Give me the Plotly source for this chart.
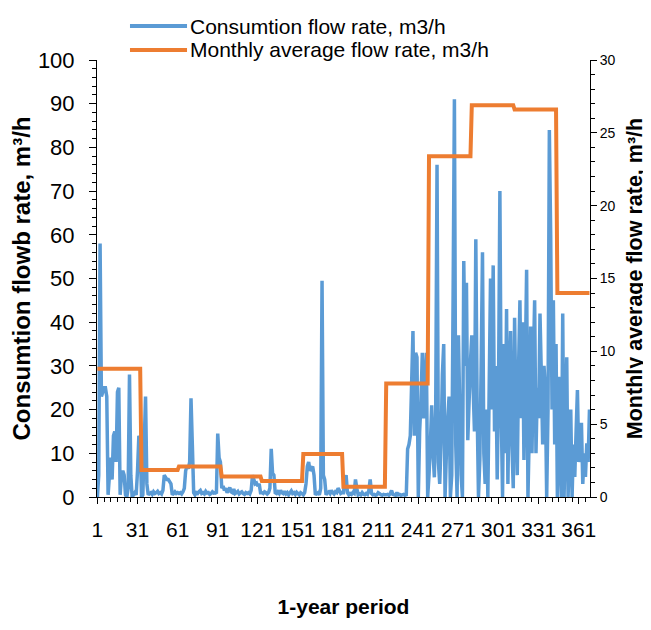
import plotly.graph_objects as go

# Daily consumption flow rate (m3/h), grouped by month
jan = [0, 5, 58, 23, 24, 25, 25, 23, 0.5, 5, 9, 4, 14, 15, 8, 24, 25, 0.5, 5, 6,
       5, 0.5, 0, 2, 28, 5, 0, 0.5, 1, 0.5, 6, 14, 13]
feb = [0, 0.5, 12, 23, 3, 0.5, 0.8, 1, 0.6, 1.2, 0.8, 1, 1.3, 0.8, 1, 0.7, 1.5, 5, 4.5, 4,
       4, 3.5, 3, 0.5, 0.8, 1.2, 0.8, 1]
mar = [0.8, 1, 0.7, 1.2, 2, 6, 7, 6.5, 8, 22.6, 12, 1, 0.5, 1, 0.8, 1.2, 1.5, 0.8, 1, 0.7,
       1.3, 0.9, 1, 0.6, 0.8, 1.2, 0.9, 1, 0.8, 14.5, 9, 8]
apr = [2, 2.5, 1.5, 2, 1, 1.5, 2.2, 1.2, 1, 1.8, 0.8, 1, 1.3, 0.7, 1, 1.2, 0.8, 0.6, 1, 0.8,
       1, 0.7, 1.5, 5, 4, 3, 3.2, 2.5, 3, 1]
may = [1, 0.8, 1.2, 1, 0.7, 1, 2, 11, 5.4, 5, 1, 0.8, 1.2, 0.8, 1.5, 1, 0.8, 1.3, 0.7, 1,
       0.5, 1, 1.4, 0.8, 1, 0.6, 1.1, 0.8, 0.5, 1, 0.8]
jun = [0.5, 1, 3, 7, 8, 6, 6.5, 7, 5, 0.5, 0.8, 1, 0.5, 2, 49.5, 5, 4, 0.5, 1, 1.2,
       0.8, 1.5, 1, 0.7, 1.2, 1, 2, 1.5, 0.8, 1]
jul = [1, 4, 5, 1, 0.5, 0.8, 0.6, 1, 0.8, 4, 2, 0.5, 0.7, 0.5, 1, 0.6, 0.5, 0.8, 0.6, 1.5,
       4, 0.8, 0.5, 0.6, 0.4, 0.5, 1, 0.8, 0.5, 0.4, 0.6, 0.5]
aug = [0.5, 0.6, 0.4, 0.8, 1.5, 0.6, 0.5, 0.4, 1, 0.5, 0.6, 0.4, 0.5, 0.6, 0.4, 0.5, 11, 12, 14, 26,
       38, 14, 33, 32, 0, 15, 22, 33, 18, 26, 33, 0]
sep = [5, 12, 21, 10, 4.5, 20, 76, 8, 3, 12, 28, 35, 0, 10, 18, 23, 0, 5, 45, 91,
       12, 0, 37, 20, 5, 0, 54, 30, 49, 13, 22, 31]
oct_ = [37, 25, 15, 59, 20, 0, 8.5, 30, 56, 10, 3, 20, 0, 25, 50, 20, 53, 15, 30, 4,
        25, 70, 20, 0, 35, 10, 43, 3, 25, 38, 12, 2]
nov = [41, 20, 5, 30, 45, 18, 40, 8.5, 30, 52, 0, 15, 39, 10, 30, 45, 10, 25, 18, 42,
       28, 12, 30, 24.5, 0, 20, 84, 60, 20, 45, 12, 35]
dec = [0, 27.5, 10, 0, 42, 0, 15, 32, 0, 10, 20, 0, 12, 4.6, 15, 24.5, 8, 12, 17, 3,
       10, 4.6, 12.3, 8, 20]

daily_months = [jan, feb, mar, apr, may, jun, jul, aug, sep, oct_, nov, dec]

# Monthly average flow rate (m3/h), right axis
monthly_avg = [8.8, 1.85, 2.1, 1.4, 1.1, 2.95, 0.7, 7.8, 23.4, 26.9, 26.6, 14.0]

x_tick_labels = [1, 31, 61, 91, 121, 151, 181, 211, 241, 271, 301, 331, 361]

series_names = ["Consumtion flow rate, m3/h", "Monthly average flow rate, m3/h"]
series_colors = ["#5B9BD5", "#ED7D31"]

daily = [v for m in daily_months for v in m]
days = list(range(1, len(daily) + 1))
monthly_line = [avg for m, avg in zip(daily_months, monthly_avg) for _ in m]

FONT = "Liberation Sans, Arial, sans-serif"

fig = go.Figure()
fig.add_trace(go.Scatter(
    x=days, y=daily, mode="lines", name=series_names[0],
    line=dict(color=series_colors[0], width=3.5, simplify=False),
))
fig.add_trace(go.Scatter(
    x=days, y=monthly_line, mode="lines", name=series_names[1],
    line=dict(color=series_colors[1], width=4, simplify=False), yaxis="y2",
))

# Legend drawn above the plot (paper coordinates)
legend_rows_y = [1.0778, 1.0229]
for name, color, ly in zip(series_names, series_colors, legend_rows_y):
    fig.add_shape(type="line", xref="paper", yref="paper",
                  x0=0.0669, x1=0.1826, y0=ly, y1=ly,
                  line=dict(color=color, width=4))
    fig.add_annotation(xref="paper", yref="paper", x=0.1846, y=ly,
                       xanchor="left", yanchor="middle", showarrow=False,
                       text=name, font=dict(size=21, family=FONT, color="black"))

fig.update_layout(
    width=643, height=622,
    margin=dict(l=89, r=61, t=52, b=133),
    paper_bgcolor="white", plot_bgcolor="white",
    font=dict(family=FONT, color="black"),
    showlegend=False,
    xaxis=dict(
        range=[0.7, 369.4], automargin=False,
        tickmode="array", tickvals=x_tick_labels, ticktext=[str(v) for v in x_tick_labels],
        ticks="outside", ticklen=6, tickcolor="black",
        minor=dict(dtick=5, tick0=1, ticks="outside", ticklen=4, tickcolor="black"),
        showline=True, linecolor="black", linewidth=1,
        showgrid=False, zeroline=False,
        tickfont=dict(size=21, family=FONT), ticklabelstandoff=8,
        title=dict(text="<b>1-year period</b>", font=dict(size=21, family=FONT), standoff=59),
    ),
    yaxis=dict(
        range=[0, 100], dtick=10, tick0=0, automargin=False,
        ticks="outside", ticklen=7, tickcolor="black",
        minor=dict(dtick=2, ticks="outside", ticklen=4, tickcolor="black"),
        showline=True, linecolor="black", linewidth=1,
        showgrid=False, zeroline=False,
        tickfont=dict(size=22, family=FONT), ticklabelstandoff=10,
        title=dict(text="<b>Consumtion flowb rate, m³/h</b>", font=dict(size=24, family=FONT), standoff=5),
    ),
    yaxis2=dict(
        range=[0, 30], dtick=5, tick0=0, overlaying="y", side="right", automargin=False,
        ticks="outside", ticklen=6, tickcolor="black",
        minor=dict(dtick=1, ticks="outside", ticklen=4, tickcolor="black"),
        showline=True, linecolor="black", linewidth=1,
        showgrid=False, zeroline=False,
        tickfont=dict(size=14, family=FONT),
        title=dict(text="<b>Monthly average flow rate, m³/h</b>", font=dict(size=21.5, family=FONT), standoff=12),
    ),
)

fig.write_html("out.html")
